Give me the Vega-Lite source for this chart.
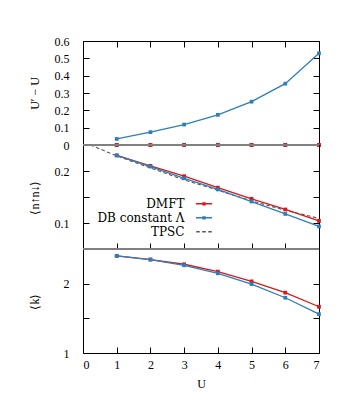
{
  "$schema": "https://vega.github.io/schema/vega-lite/v6.json",
  "background": "white",
  "padding": {"left": 27, "top": 34, "right": 5, "bottom": 5},
  "bounds": "flush",
  "spacing": 0,
  "datasets": {
    "top": [
      {"U": 1, "series": "DMFT", "v": 0}, {"U": 2, "series": "DMFT", "v": 0}, {"U": 3, "series": "DMFT", "v": 0},
      {"U": 4, "series": "DMFT", "v": 0}, {"U": 5, "series": "DMFT", "v": 0}, {"U": 6, "series": "DMFT", "v": 0},
      {"U": 7, "series": "DMFT", "v": 0},
      {"U": 1, "series": "DB constant Λ", "v": 0.035}, {"U": 2, "series": "DB constant Λ", "v": 0.074},
      {"U": 3, "series": "DB constant Λ", "v": 0.118}, {"U": 4, "series": "DB constant Λ", "v": 0.174},
      {"U": 5, "series": "DB constant Λ", "v": 0.25}, {"U": 6, "series": "DB constant Λ", "v": 0.354},
      {"U": 7, "series": "DB constant Λ", "v": 0.529}
    ],
    "mid": [
      {"U": 1, "series": "DMFT", "v": 0.230}, {"U": 2, "series": "DMFT", "v": 0.210}, {"U": 3, "series": "DMFT", "v": 0.190},
      {"U": 4, "series": "DMFT", "v": 0.168}, {"U": 5, "series": "DMFT", "v": 0.1465}, {"U": 6, "series": "DMFT", "v": 0.126},
      {"U": 7, "series": "DMFT", "v": 0.104},
      {"U": 1, "series": "DB constant Λ", "v": 0.230}, {"U": 2, "series": "DB constant Λ", "v": 0.2085},
      {"U": 3, "series": "DB constant Λ", "v": 0.186}, {"U": 4, "series": "DB constant Λ", "v": 0.1645},
      {"U": 5, "series": "DB constant Λ", "v": 0.1413}, {"U": 6, "series": "DB constant Λ", "v": 0.1174},
      {"U": 7, "series": "DB constant Λ", "v": 0.0934},
      {"U": 0.22, "series": "TPSC", "v": 0.25}, {"U": 1, "series": "TPSC", "v": 0.229}, {"U": 2, "series": "TPSC", "v": 0.206},
      {"U": 3, "series": "TPSC", "v": 0.1828}, {"U": 4, "series": "TPSC", "v": 0.163}, {"U": 5, "series": "TPSC", "v": 0.1425},
      {"U": 6, "series": "TPSC", "v": 0.1244}, {"U": 7, "series": "TPSC", "v": 0.109}
    ],
    "bot": [
      {"U": 1, "series": "DMFT", "v": 2.40}, {"U": 2, "series": "DMFT", "v": 2.348}, {"U": 3, "series": "DMFT", "v": 2.28},
      {"U": 4, "series": "DMFT", "v": 2.174}, {"U": 5, "series": "DMFT", "v": 2.033}, {"U": 6, "series": "DMFT", "v": 1.87},
      {"U": 7, "series": "DMFT", "v": 1.667},
      {"U": 1, "series": "DB constant Λ", "v": 2.40}, {"U": 2, "series": "DB constant Λ", "v": 2.348},
      {"U": 3, "series": "DB constant Λ", "v": 2.265}, {"U": 4, "series": "DB constant Λ", "v": 2.149},
      {"U": 5, "series": "DB constant Λ", "v": 1.994}, {"U": 6, "series": "DB constant Λ", "v": 1.797},
      {"U": 7, "series": "DB constant Λ", "v": 1.56}
    ]
  },
  "config": {
    "font": "Liberation Serif",
    "view": {"stroke": "black", "strokeWidth": 1},
    "axis": {
      "grid": false, "domain": false, "tickColor": "black", "tickSize": 6, "tickWidth": 1, "offset": -6, "zindex": 1,
      "labelFont": "Liberation Serif", "labelFontSize": 12, "labelColor": "black",
      "titleFont": "Liberation Serif", "titleFontSize": 12, "titleFontWeight": "normal", "titleColor": "black"
    },
    "legend": {"labelFont": "DejaVu Serif"},
    "concat": {"spacing": 0}
  },
  "vconcat": [
    {
      "width": 236, "height": 104,
      "resolve": {"axis": {"y": "independent"}},
      "layer": [
        {
          "data": {"name": "top"},
          "transform": [{"filter": "datum.series == 'DMFT'"}],
          "mark": {"type": "line", "color": "#d7191c", "strokeWidth": 1.3, "point": {"filled": true, "shape": "square", "size": 14, "color": "#d7191c"}},
          "encoding": {
            "x": {"field": "U", "type": "quantitative", "scale": {"domain": [0, 7]},
              "axis": {"orient": "top", "values": [0, 1, 2, 3, 4, 5, 6, 7], "labels": false, "title": null}},
            "y": {"field": "v", "type": "quantitative", "scale": {"domain": [0, 0.6]},
              "axis": {"orient": "left", "values": [0, 0.1, 0.2, 0.3, 0.4, 0.5, 0.6], "format": "~g", "labelPadding": 14,
                "title": "U′ − U", "titleX": -55, "titleY": 52, "titleAngle": -90, "titleBaseline": "middle", "titleAlign": "center"}}
          }
        },
        {
          "data": {"name": "top"},
          "transform": [{"filter": "datum.series != 'DMFT'"}],
          "mark": {"type": "line", "color": "#2c7fb8", "strokeWidth": 1.3, "point": {"filled": true, "shape": "square", "size": 14, "color": "#2c7fb8"}},
          "encoding": {
            "x": {"field": "U", "type": "quantitative", "scale": {"domain": [0, 7]},
              "axis": {"orient": "top", "values": [0, 1, 2, 3, 4, 5, 6, 7], "labels": false, "title": null}},
            "y": {"field": "v", "type": "quantitative", "scale": {"domain": [0, 0.6]},
              "axis": {"orient": "right", "values": [0, 0.1, 0.2, 0.3, 0.4, 0.5, 0.6], "labels": false, "title": null}}
          }
        },
        {
          "data": {"values": [{}]},
          "mark": {"type": "rule", "color": "#808080", "strokeWidth": 2},
          "encoding": {
            "y": {"datum": 0, "type": "quantitative", "scale": {"domain": [0, 0.6]}, "axis": null}
          }
        },
        {
          "data": {"name": "top"},
          "transform": [{"filter": "datum.series == 'DMFT'"}],
          "mark": {"type": "line", "color": "#d7191c", "strokeWidth": 1.3, "point": {"filled": true, "shape": "square", "size": 14, "color": "#d7191c"}},
          "encoding": {
            "x": {"field": "U", "type": "quantitative", "scale": {"domain": [0, 7]},
              "axis": {"orient": "top", "values": [0, 1, 2, 3, 4, 5, 6, 7], "labels": false, "title": null}},
            "y": {"field": "v", "type": "quantitative", "scale": {"domain": [0, 0.6]}, "axis": null}
          }
        }
      ]
    },
    {
      "width": 236, "height": 104,
      "resolve": {"axis": {"y": "independent"}},
      "layer": [
        {
          "data": {"name": "mid"},
          "transform": [{"filter": "datum.series == 'TPSC'"}],
          "mark": {"type": "line", "color": "#555555", "strokeWidth": 1.1, "strokeDash": [3.5, 2.5], "clip": true},
          "encoding": {
            "x": {"field": "U", "type": "quantitative", "scale": {"domain": [0, 7]},
              "axis": {"orient": "bottom", "values": [0, 1, 2, 3, 4, 5, 6, 7], "labels": false, "title": null}},
            "y": {"field": "v", "type": "quantitative", "scale": {"domain": [0.05, 0.25]},
              "axis": {"orient": "left", "values": [0.1, 0.15, 0.2], "format": "~g", "labelExpr": "datum.value == 0.15 ? '' : datum.label", "labelPadding": 14,
                "title": "⟨n↑n↓⟩", "titleX": -55, "titleY": 52, "titleAngle": -90, "titleBaseline": "middle", "titleAlign": "center"}}
          }
        },
        {
          "data": {"name": "mid"},
          "transform": [{"filter": "datum.series == 'DMFT'"}],
          "mark": {"type": "line", "color": "#d7191c", "strokeWidth": 1.3, "point": {"filled": true, "shape": "square", "size": 14, "color": "#d7191c"}},
          "encoding": {
            "x": {"field": "U", "type": "quantitative", "scale": {"domain": [0, 7]},
              "axis": {"orient": "bottom", "values": [0, 1, 2, 3, 4, 5, 6, 7], "labels": false, "title": null}},
            "y": {"field": "v", "type": "quantitative", "scale": {"domain": [0.05, 0.25]},
              "axis": {"orient": "right", "values": [0.1, 0.15, 0.2], "labels": false, "title": null}}
          }
        },
        {
          "data": {"name": "mid"},
          "transform": [{"filter": "datum.series == 'DB constant Λ'"}],
          "mark": {"type": "line", "color": "#2c7fb8", "strokeWidth": 1.3, "point": {"filled": true, "shape": "square", "size": 14, "color": "#2c7fb8"}},
          "encoding": {
            "x": {"field": "U", "type": "quantitative", "scale": {"domain": [0, 7]},
              "axis": {"orient": "bottom", "values": [0, 1, 2, 3, 4, 5, 6, 7], "labels": false, "title": null}},
            "y": {"field": "v", "type": "quantitative", "scale": {"domain": [0.05, 0.25]}, "axis": null}
          }
        },
        {
          "data": {"values": [{}]},
          "mark": {"type": "rule", "color": "#808080", "strokeWidth": 2},
          "encoding": {
            "y": {"datum": 0.25, "type": "quantitative", "scale": {"domain": [0.05, 0.25]}, "axis": null}
          }
        },
        {
          "data": {"values": [{}]},
          "mark": {"type": "rule", "color": "#808080", "strokeWidth": 2},
          "encoding": {
            "y": {"datum": 0.05, "type": "quantitative", "scale": {"domain": [0.05, 0.25]}, "axis": null}
          }
        },
        {
          "data": {"name": "mid"},
          "mark": {"type": "point", "opacity": 0, "filled": false, "strokeWidth": 1.4},
          "encoding": {
            "x": {"field": "U", "type": "quantitative", "scale": {"domain": [0, 7]},
              "axis": {"orient": "bottom", "values": [0, 1, 2, 3, 4, 5, 6, 7], "labels": false, "title": null}},
            "y": {"field": "v", "type": "quantitative", "scale": {"domain": [0.05, 0.25]}, "axis": null},
            "color": {"field": "series", "type": "nominal",
              "scale": {"domain": ["DMFT", "DB constant Λ", "TPSC"], "range": ["#d7191c", "#2c7fb8", "#555555"]},
              "legend": {"title": null, "orient": "none", "legendX": 113.5, "legendY": 155.3, "labelAlign": "right", "labelOffset": -27,
                "symbolSize": 169, "symbolStrokeWidth": 1.4, "symbolOpacity": 1, "labelFontSize": 12, "labelFont": "DejaVu Serif",
                "labelColor": "black", "rowPadding": -3, "labelLimit": 300}},
            "shape": {"field": "series", "type": "nominal",
              "scale": {"domain": ["DMFT", "DB constant Λ", "TPSC"],
                "range": ["M-1.25,0H1.25M-0.15,-0.15H0.15V0.15H-0.15Z", "M-1.25,0H1.25M-0.15,-0.15H0.15V0.15H-0.15Z", "M-1.2,0H-0.66M-0.27,0H0.27M0.66,0H1.2"]},
              "legend": {"title": null, "orient": "none", "legendX": 113.5, "legendY": 155.3, "labelAlign": "right", "labelOffset": -27,
                "symbolSize": 169, "symbolStrokeWidth": 1.4, "symbolOpacity": 1, "labelFontSize": 12, "labelFont": "DejaVu Serif",
                "labelColor": "black", "rowPadding": -3, "labelLimit": 300}}
          }
        }
      ]
    },
    {
      "width": 236, "height": 104,
      "resolve": {"axis": {"y": "independent"}},
      "layer": [
        {
          "data": {"name": "bot"},
          "transform": [{"filter": "datum.series == 'DMFT'"}],
          "mark": {"type": "line", "color": "#d7191c", "strokeWidth": 1.3, "point": {"filled": true, "shape": "square", "size": 14, "color": "#d7191c"}},
          "encoding": {
            "x": {"field": "U", "type": "quantitative", "scale": {"domain": [0, 7]},
              "axis": {"orient": "bottom", "values": [0, 1, 2, 3, 4, 5, 6, 7], "labelPadding": 6.5, "title": "U", "titlePadding": 8}},
            "y": {"field": "v", "type": "quantitative", "scale": {"domain": [1, 2.5]},
              "axis": {"orient": "left", "values": [1, 1.5, 2], "format": "~g", "labelExpr": "datum.value == 1.5 ? '' : datum.label", "labelPadding": 14,
                "title": "⟨k⟩", "titleX": -55, "titleY": 52, "titleAngle": -90, "titleBaseline": "middle", "titleAlign": "center"}}
          }
        },
        {
          "data": {"name": "bot"},
          "transform": [{"filter": "datum.series != 'DMFT'"}],
          "mark": {"type": "line", "color": "#2c7fb8", "strokeWidth": 1.3, "point": {"filled": true, "shape": "square", "size": 14, "color": "#2c7fb8"}},
          "encoding": {
            "x": {"field": "U", "type": "quantitative", "scale": {"domain": [0, 7]},
              "axis": {"orient": "bottom", "values": [0, 1, 2, 3, 4, 5, 6, 7], "labelPadding": 6.5, "title": "U", "titlePadding": 8}},
            "y": {"field": "v", "type": "quantitative", "scale": {"domain": [1, 2.5]},
              "axis": {"orient": "right", "values": [1, 1.5, 2], "labels": false, "title": null}}
          }
        },
        {
          "data": {"values": [{}]},
          "mark": {"type": "rule", "color": "#808080", "strokeWidth": 2},
          "encoding": {
            "y": {"datum": 2.5, "type": "quantitative", "scale": {"domain": [1, 2.5]}, "axis": null}
          }
        }
      ]
    }
  ]
}
